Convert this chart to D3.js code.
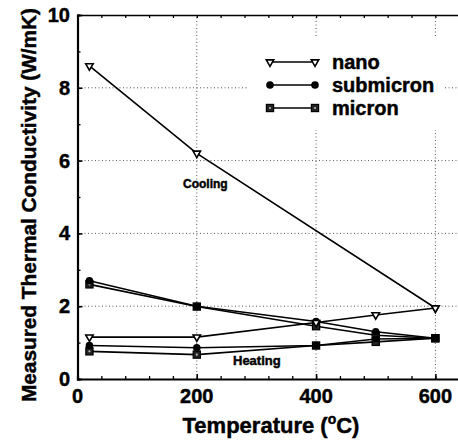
<!DOCTYPE html>
<html><head><meta charset="utf-8">
<script src="https://cdn.jsdelivr.net/npm/d3@7"></script>
<style>body{margin:0;background:#fff}svg{display:block}text{font-family:"Liberation Sans",Arial,sans-serif;font-weight:bold;fill:#000;stroke:#000;stroke-width:0.45px}</style>
</head><body>
<svg id="c" width="458" height="442"></svg>
<script>
// Data (Temperature °C, conductivity W/mK)
const temps = [20, 200, 400, 500, 600];
const nanoCoolingT = [20, 200, 600];
const nanoCooling = [8.6, 6.2, 1.95];
const nanoHeating = [1.15, 1.15, 1.55, 1.76, 1.95];
const submicronCooling = [2.7, 2.0, 1.58, 1.3, 1.12];
const submicronHeating = [0.92, 0.86, 0.92, 1.1, 1.12];
const micronCooling = [2.6, 1.99, 1.45, 1.2, 1.12];
const micronHeating = [0.76, 0.67, 0.92, 1.02, 1.12];
const seriesNames = ["nano", "submicron", "micron"];
const xMajor = [0, 200, 400, 600];
const yMajor = [0, 2, 4, 6, 8, 10];

(function(){
const svg = d3.select("#c");
const x = d3.scaleLinear().domain([0, 650]).range([77.5, 465.2]);
const y = d3.scaleLinear().domain([0, 10]).range([379, 15]);

// grid
const g = svg.append("g");
g.selectAll(".gx").data([200,400,600]).join("line")
  .attr("x1", d=>x(d)).attr("x2", d=>x(d)).attr("y1", y(0)).attr("y2", y(10))
  .attr("stroke", "#555").attr("stroke-width", 1).attr("stroke-dasharray", "1,2.5");
g.selectAll(".gy").data([2,4,6,8]).join("line")
  .attr("y1", d=>y(d)).attr("y2", d=>y(d)).attr("x1", x(0)).attr("x2", 458)
  .attr("stroke", "#555").attr("stroke-width", 1).attr("stroke-dasharray", "1,2.5");

// legend background
svg.append("rect").attr("x", 248).attr("y", 38).attr("width", 197).attr("height", 92).attr("fill", "#fff");

// axes
const xMinor = d3.range(0, 650, 40);
const yMinor = d3.range(0, 10.01, 1);
const axBottom = d3.axisBottom(x).tickValues(xMinor).tickSize(-3).tickFormat("");
const axTop = d3.axisTop(x).tickValues(xMinor).tickSize(-3).tickFormat("");
const axLeft = d3.axisLeft(y).tickValues(yMinor).tickSize(-3).tickFormat("");
function styleAx(sel, w){ sel.select(".domain").attr("stroke","#000").attr("stroke-width",w); sel.selectAll(".tick line").attr("stroke","#000").attr("stroke-width",1.3); }
svg.append("g").attr("transform",`translate(0,${y(0)})`).call(axBottom).call(s=>styleAx(s,2.2));
svg.append("g").attr("transform",`translate(0,${y(10)})`).call(axTop).call(s=>styleAx(s,1.6));
svg.append("g").attr("transform",`translate(${x(0)},0)`).call(axLeft).call(s=>styleAx(s,2.2));
// major ticks longer
svg.append("g").attr("transform",`translate(0,${y(0)})`).call(d3.axisBottom(x).tickValues(xMajor).tickSize(-5).tickSizeOuter(0).tickFormat(""))
  .call(s=>{s.select(".domain").remove(); s.selectAll(".tick line").attr("stroke","#000").attr("stroke-width",1.5);});
svg.append("g").attr("transform",`translate(${x(0)},0)`).call(d3.axisLeft(y).tickValues(yMajor).tickSize(-5).tickSizeOuter(0).tickFormat(""))
  .call(s=>{s.select(".domain").remove(); s.selectAll(".tick line").attr("stroke","#000").attr("stroke-width",1.5);});

// tick labels
svg.selectAll(".xl").data(xMajor).join("text").attr("x", d=>x(d)).attr("y", 403)
  .attr("text-anchor","middle").attr("font-size", 20).text(d=>d);
svg.selectAll(".yl").data(yMajor).join("text").attr("x", 70).attr("y", d=>y(d)+7)
  .attr("text-anchor","end").attr("font-size", 20).text(d=>d);

// titles
const xt = svg.append("text").attr("x", 271).attr("y", 433).attr("text-anchor","middle").attr("font-size", 22);
xt.append("tspan").text("Temperature (");
xt.append("tspan").attr("font-size", 14).attr("dy", -9).text("o");
xt.append("tspan").attr("dy", 9).text("C)");
svg.append("text").attr("transform","translate(36,205) rotate(-90)").attr("text-anchor","middle")
  .attr("font-size", 20.8).text("Measured Thermal Conductivity (W/mK)");

// lines
const line = d3.line().x(d=>x(d[0])).y(d=>y(d[1]));
const zip = (xs, ys) => xs.map((v,i)=>[v, ys[i]]);
const paths = [
  zip(nanoCoolingT, nanoCooling), zip(temps, nanoHeating),
  zip(temps, submicronCooling), zip(temps, submicronHeating),
  zip(temps, micronCooling), zip(temps, micronHeating)
];
svg.selectAll(".ln").data(paths).join("path").attr("d", line)
  .attr("fill","none").attr("stroke","#000").attr("stroke-width",1.6);

// markers
function tri(sel){ sel.append("path").attr("d", d3.symbol(d3.symbolTriangle, 24)).attr("transform", "rotate(180)")
  .attr("fill","#fff").attr("stroke","#000").attr("stroke-width",1.6); }
function circ(sel){ sel.append("circle").attr("r", 3.8).attr("fill","#000"); }
function sq(sel){ sel.append("rect").attr("x",-3.6).attr("y",-3.6).attr("width",7.2).attr("height",7.2)
  .attr("fill","#222").attr("stroke","#000").attr("stroke-width",1.2);
  sel.append("circle").attr("r",1.1).attr("fill","#bbb"); }
const markerFns = [tri, circ, sq];
function drawMarkers(pts, fn){
  svg.append("g").selectAll("g").data(pts).join("g")
    .attr("transform", d=>`translate(${x(d[0])},${y(d[1])})`).each(function(){ fn(d3.select(this)); });
}
drawMarkers(paths[4], sq); drawMarkers(paths[5], sq);
drawMarkers(paths[2], circ); drawMarkers(paths[3], circ);
drawMarkers(paths[0], tri); drawMarkers(paths[1], tri);

// legend
const lg = svg.append("g");
seriesNames.forEach((name, i) => {
  const yy = 62 + i*23;
  lg.append("line").attr("x1", 270).attr("x2", 315).attr("y1", yy).attr("y2", yy).attr("stroke","#000").attr("stroke-width",1.6);
  [270, 315].forEach(xx => { const m = lg.append("g").attr("transform",`translate(${xx},${yy})`); markerFns[i](m); });
  lg.append("text").attr("x", 332).attr("y", yy+7).attr("font-size", 20).text(name);
});

// annotations
svg.append("text").attr("x", 183).attr("y", 188).attr("font-size", 12).text("Cooling");
svg.append("text").attr("x", 233).attr("y", 365).attr("font-size", 13).text("Heating");
})();
</script>
</body></html>
